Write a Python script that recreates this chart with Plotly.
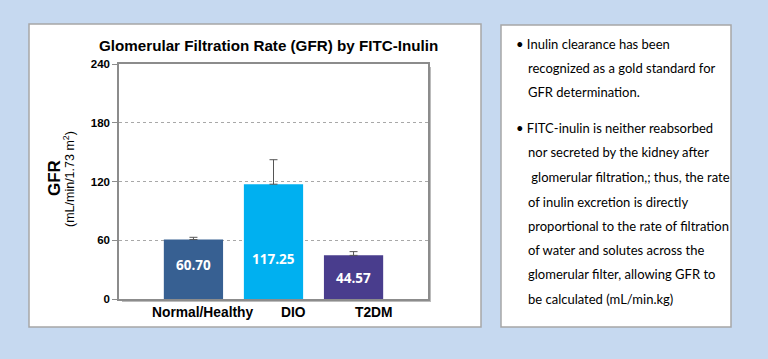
import plotly.graph_objects as go

categories = ["Normal/Healthy", "DIO", "T2DM"]
gfr_values = [60.70, 117.25, 44.57]
gfr_errors = [2.3, 25.0, 3.8]
value_labels = ["60.70", "117.25", "44.57"]
label_y = [34.7, 40.9, 21.8]
bar_colors = ["#376092", "#00B0F0", "#493D8D"]
y_ticks = [0, 60, 120, 180, 240]
title_text = "Glomerular Filtration Rate (GFR) by FITC-Inulin"
notes = [
    ("• Inulin clearance has been", 44),
    ("recognized as a gold standard for", 68),
    ("GFR determination.", 92),
    ("• FITC-inulin is neither reabsorbed", 128),
    ("nor secreted by the kidney after", 152),
    (" glomerular filtration,; thus, the rate", 177),
    ("of inulin excretion is directly", 202),
    ("proportional to the rate of filtration", 226),
    ("of water and solutes across the", 250),
    ("glomerular filter, allowing GFR to", 274),
    ("be calculated (mL/min.kg)", 299),
]

W, H = 768, 359
L, R, T, B = 119, 428, 64, 299

def px(x):
    return (x - L) / (R - L)

def py(y):
    return (B - y) / (B - T)

fig = go.Figure()
fig.add_trace(go.Bar(
    x=list(range(len(categories))), y=gfr_values,
    marker=dict(color=bar_colors, line=dict(width=0)),
    width=0.74,
    error_y=dict(type="data", array=gfr_errors, arrayminus=[0] * 3,
                 symmetric=False, color="#555555", thickness=1, width=4),
    hoverinfo="y",
))

def ann(**kw):
    d = dict(showarrow=False, xanchor="center", yanchor="middle")
    d.update(kw)
    return d

annotations = []
for i, (lab, yy) in enumerate(zip(value_labels, label_y)):
    annotations.append(ann(x=i, y=yy, xref="x", yref="y", text=lab,
                           font=dict(family="Open Sans", size=13.5, color="white", weight="bold")))
xshifts = [10, 20, 20]
for i, (c, s) in enumerate(zip(categories, xshifts)):
    annotations.append(ann(x=i, y=py(312.7), xref="x", yref="paper", text=c, xshift=s,
                           font=dict(family="Liberation Sans", size=13.8, color="black", weight="bold")))
annotations.append(ann(x=px(268), y=py(45), xref="paper", yref="paper", text=title_text,
                       font=dict(family="Liberation Sans", size=15.2, color="black", weight="bold")))
annotations.append(ann(x=px(54), y=py(178), xref="paper", yref="paper", text="GFR", textangle=-90,
                       font=dict(family="Liberation Sans", size=17, color="black", weight="bold")))
annotations.append(ann(x=px(69), y=py(179), xref="paper", yref="paper",
                       text="(mL/min/1.73 m<sup>2</sup>)", textangle=-90,
                       font=dict(family="Liberation Sans", size=12.5, color="black")))
for line, yy in notes:
    x0 = 514 if line.startswith("•") else 526
    annotations.append(ann(x=px(x0), y=py(yy), xref="paper", yref="paper", text=line,
                           xanchor="left",
                           font=dict(family="Lato", size=13, color="black")))

shapes = [
    dict(type="rect", xref="paper", yref="paper", x0=px(29), x1=px(481), y0=py(327), y1=py(24),
         fillcolor="white", line=dict(color="#A6A6A6", width=1.5), layer="below"),
    dict(type="rect", xref="paper", yref="paper", x0=px(501), x1=px(731), y0=py(327), y1=py(25),
         fillcolor="white", line=dict(color="#A6A6A6", width=1.5), layer="below"),
    dict(type="rect", xref="paper", yref="paper", x0=px(L + 3), x1=px(R + 3), y0=py(B + 3), y1=py(T + 3),
         fillcolor="#BBBBBB", line=dict(width=0), layer="below"),
    dict(type="rect", xref="paper", yref="paper", x0=0, x1=1, y0=0, y1=1,
         fillcolor="white", line=dict(width=0), layer="below"),
]

fig.update_layout(
    width=W, height=H,
    margin=dict(l=L, r=W - R, t=T, b=H - B),
    paper_bgcolor="#C6D9F0", plot_bgcolor="rgba(0,0,0,0)",
    showlegend=False,
    annotations=annotations, shapes=shapes,
    xaxis=dict(range=[-0.93, 2.93], showticklabels=False, showgrid=False, zeroline=False,
               showline=True, linecolor="#8C8C8C", linewidth=1.5, mirror=True, ticks=""),
    yaxis=dict(range=[0, 240], tickvals=y_ticks, ticks="outside", ticklen=5, tickcolor="#8C8C8C",
               showgrid=True, gridcolor="#A8A8A8", griddash="dot", gridwidth=1, zeroline=False,
               showline=True, linecolor="#8C8C8C", linewidth=1.5, mirror=True, automargin=False,
               tickfont=dict(family="Liberation Sans", size=11.5, color="black", weight="bold")),
)

fig.write_html("out.html", config={"displayModeBar": False},
               post_script="document.body.style.margin='0';document.body.style.background='#C6D9F0';")
